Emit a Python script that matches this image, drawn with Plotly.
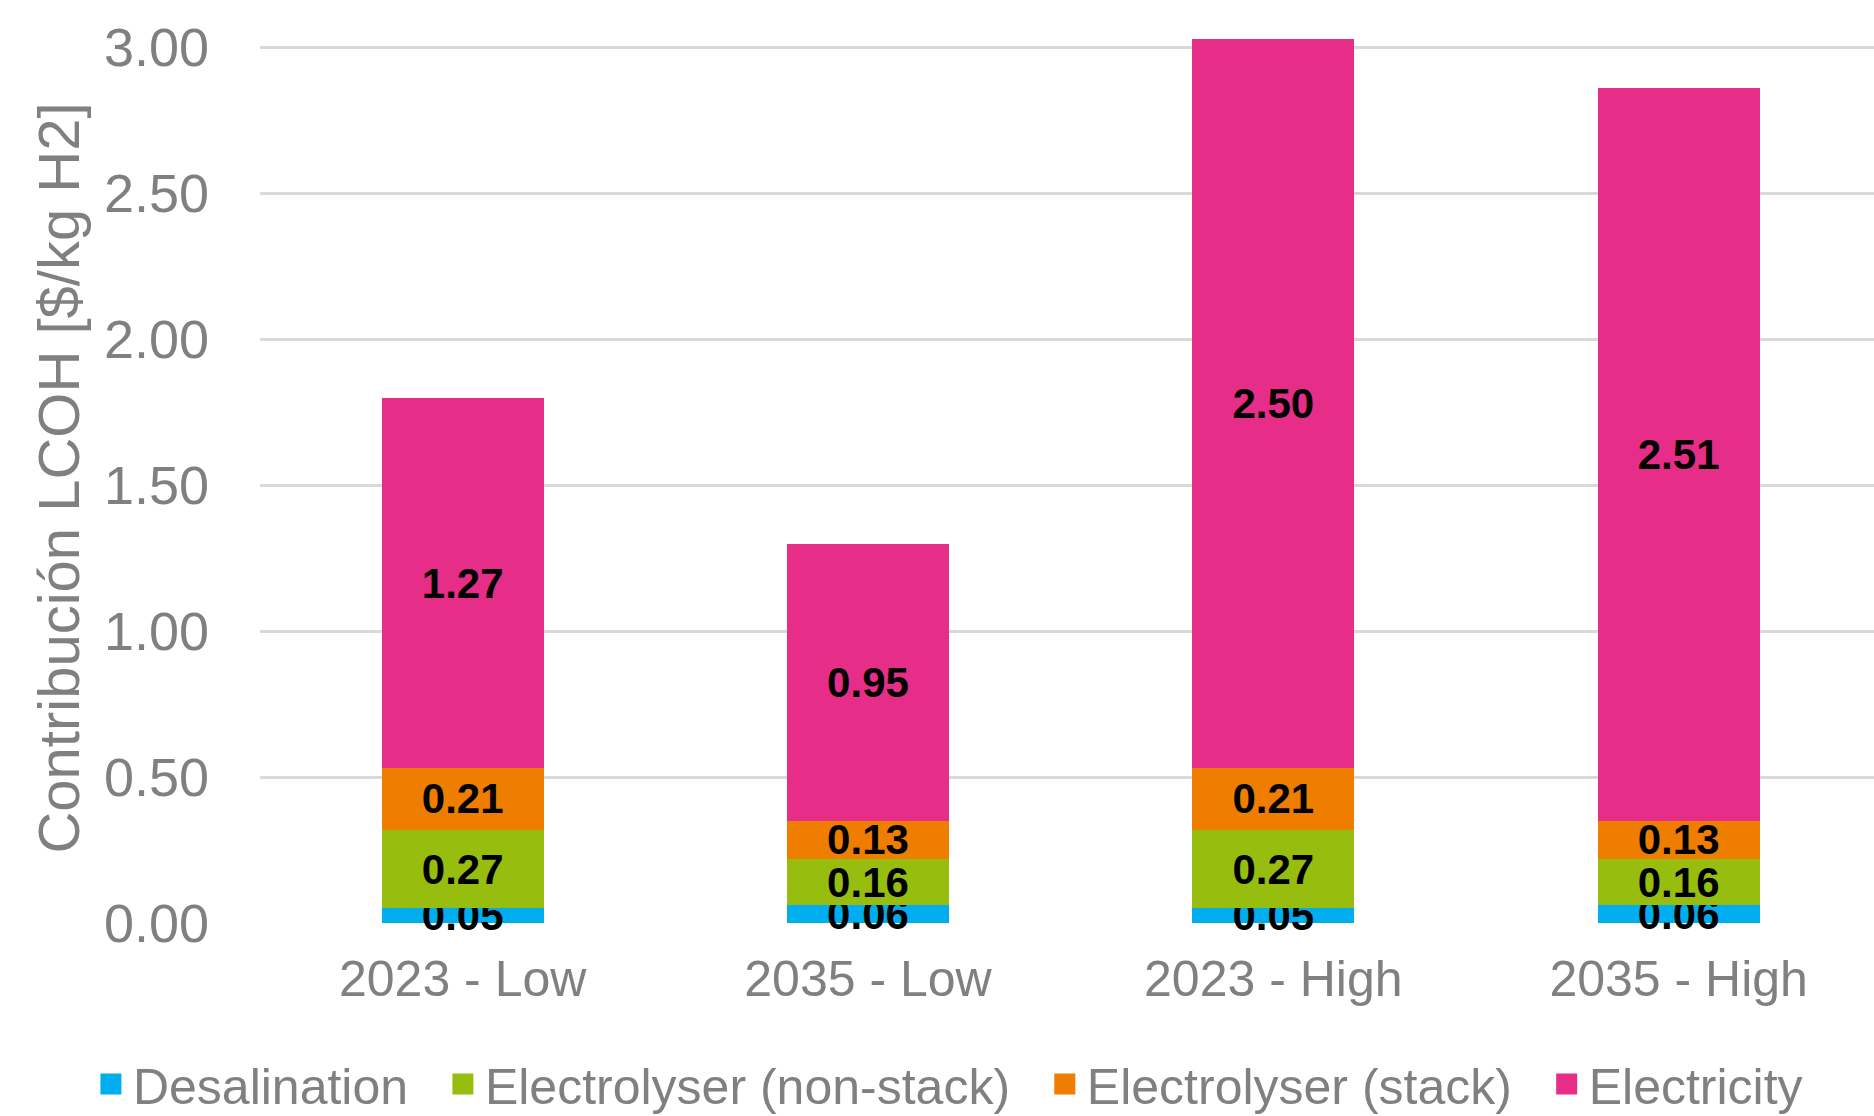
import plotly.graph_objects as go

# Scenario categories and cost components (USD per kg H2)
categories = ["2023 - Low", "2035 - Low", "2023 - High", "2035 - High"]
desalination = [0.05, 0.06, 0.05, 0.06]
electrolyser_non_stack = [0.27, 0.16, 0.27, 0.16]
electrolyser_stack = [0.21, 0.13, 0.21, 0.13]
electricity = [1.27, 0.95, 2.50, 2.51]

series_names = ["Desalination", "Electrolyser (non-stack)", "Electrolyser (stack)", "Electricity"]
series_values = [desalination, electrolyser_non_stack, electrolyser_stack, electricity]
series_colors = ["#00AEEF", "#97BE0F", "#EE7D00", "#E62D88"]

y_ticks = [0.0, 0.5, 1.0, 1.5, 2.0, 2.5, 3.0]

FONT = "Liberation Sans, Arial, sans-serif"
GREY = "#808080"
LEGEND_PAD = "\u00a0\u00a0"  # extra room between horizontal legend entries

fig = go.Figure()
for name, vals, color in zip(series_names, series_values, series_colors):
    fig.add_trace(go.Bar(
        name=name,
        legendgroup=name,
        showlegend=False,
        x=categories,
        y=vals,
        marker=dict(color=color, line=dict(width=0)),
        texttemplate="%{y:.2f}",
        textposition="inside",
        insidetextanchor="middle",
        textangle=0,
        cliponaxis=False,
        textfont=dict(family=FONT, size=42, color="black", weight="bold"),
    ))

# Legend keys: larger square swatches than the default bar legend symbol
for i, (name, color) in enumerate(zip(series_names, series_colors)):
    label = name if i == len(series_names) - 1 else name + LEGEND_PAD
    fig.add_trace(go.Scatter(
        name=label,
        legendgroup=name,
        x=[None],
        y=[None],
        mode="markers",
        marker=dict(symbol="square", size=16, color=color, line=dict(width=5, color=color)),
        hoverinfo="skip",
    ))

fig.update_layout(
    width=1874,
    height=1116,
    barmode="stack",
    bargap=0.6,
    plot_bgcolor="white",
    paper_bgcolor="white",
    margin=dict(l=260, r=0, t=33, b=193, autoexpand=False),
    uniformtext=dict(minsize=42, mode="show"),
    font=dict(family=FONT, color=GREY, size=50),
    legend=dict(
        orientation="h",
        x=-0.106,
        xanchor="left",
        y=-0.181,
        yanchor="middle",
        font=dict(family=FONT, size=50, color=GREY),
        traceorder="normal",
        itemclick=False,
        itemwidth=34,
    ),
    showlegend=True,
)

fig.update_xaxes(
    range=[-0.5, 3.482],
    showgrid=False,
    showline=False,
    zeroline=False,
    ticks="",
    ticklabelstandoff=22,
    tickfont=dict(family=FONT, size=50, color=GREY),
    automargin=False,
)

fig.update_yaxes(
    range=[0, 3.05],
    tickvals=y_ticks,
    ticktext=[f"{v:.2f}" for v in y_ticks],
    showgrid=True,
    gridcolor="#D9D9D9",
    gridwidth=2.5,
    zeroline=False,
    showline=False,
    ticks="",
    ticklabelstandoff=50,
    tickfont=dict(family=FONT, size=54, color=GREY),
    title=dict(text="Contribución LCOH [$/kg H2]", font=dict(family=FONT, size=58, color=GREY), standoff=5),
    automargin=False,
)

fig.write_html("out.html")
